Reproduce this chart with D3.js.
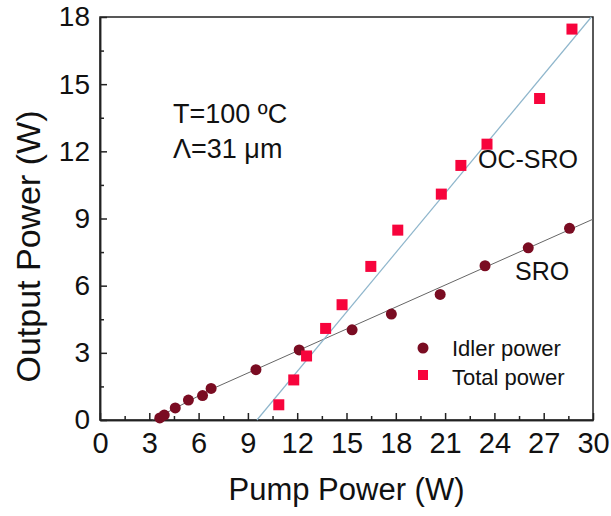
<html>
<head>
  <meta charset="utf8">
  <title>Output power vs pump power</title>
  <style>
  * { margin: 0; padding: 0; }
  body { background: #fff; }
  svg text { font-family: "Liberation Sans", Arial, sans-serif; fill: #111; }
  </style>
</head>
<body>
  <script src="https://cdn.jsdelivr.net/npm/d3@7"></script>
  <script>
  //Size of page and plot box
  var w = 611;
  var h = 516;
  var margin = { top: 17, right: 18, bottom: 96, left: 100 };

  //Data (pump power W, output power W)
  var idlerPump  = [3.64, 3.91, 4.58, 5.38, 6.24, 6.76, 9.49, 12.12, 15.34, 17.73, 20.7, 23.43, 26.06, 28.57];
  var idlerPower = [0.09, 0.22, 0.54, 0.89, 1.09, 1.41, 2.25, 3.13, 4.03, 4.73, 5.61, 6.89, 7.69, 8.56];
  var totalPump  = [10.88, 11.79, 12.57, 13.73, 14.73, 16.48, 18.12, 20.77, 21.96, 23.55, 26.75, 28.72];
  var totalPower = [0.68, 1.79, 2.86, 4.09, 5.15, 6.86, 8.48, 10.09, 11.37, 12.32, 14.36, 17.46];
  //Fit lines
  var sroFit   = [[3.2, 0], [6.8, 1.38], [30, 8.97]];
  var ocSroFit = [[9.55, 0], [29.9, 18]];
  //Axis ticks
  var xTicks = [0, 3, 6, 9, 12, 15, 18, 21, 24, 27, 30];
  var yTicks = [0, 3, 6, 9, 12, 15, 18];
  var xMinor = d3.range(1.5, 30, 3);
  var yMinor = d3.range(1.5, 18, 3);

  var pw = w - margin.left - margin.right;
  var ph = h - margin.top - margin.bottom;

  var xScale = d3.scaleLinear().domain([0, 30]).range([0, pw]);
  var yScale = d3.scaleLinear().domain([0, 18]).range([ph, 0]);

  var svg = d3.select("body")
    .append("svg")
    .attr("width", w)
    .attr("height", h);

  var g = svg.append("g")
    .attr("transform", "translate(" + margin.left + "," + margin.top + ")");

  //Frame
  g.append("rect")
    .attr("width", pw)
    .attr("height", ph)
    .attr("fill", "none")
    .attr("stroke", "#222")
    .attr("stroke-width", 1.5);

  //X axis, ticks pointing inside
  var xAxis = d3.axisBottom(xScale)
    .tickValues(xTicks)
    .tickSize(-7)
    .tickSizeOuter(0)
    .tickPadding(12)
    .tickFormat(d3.format("d"));
  var gx = g.append("g")
    .attr("transform", "translate(0," + ph + ")")
    .call(xAxis);
  gx.selectAll("text").attr("font-size", 29).attr("fill", "#111");
  g.append("g")
    .attr("transform", "translate(0," + ph + ")")
    .call(d3.axisBottom(xScale).tickValues(xMinor).tickSize(-4).tickSizeOuter(0).tickFormat(""));

  //Y axis
  var yAxis = d3.axisLeft(yScale)
    .tickValues(yTicks)
    .tickSize(-7)
    .tickSizeOuter(0)
    .tickPadding(10)
    .tickFormat(d3.format("d"));
  var gy = g.append("g").call(yAxis);
  gy.selectAll("text").attr("font-size", 28).attr("fill", "#111");
  g.append("g")
    .call(d3.axisLeft(yScale).tickValues(yMinor).tickSize(-4).tickSizeOuter(0).tickFormat(""));

  g.selectAll(".domain, .tick line").attr("stroke", "#222").attr("stroke-width", 1.5);
  g.selectAll("text").attr("font-family", "Liberation Sans, Arial, sans-serif");

  //Fit lines
  var line = d3.line()
    .x(function(d) { return xScale(d[0]); })
    .y(function(d) { return yScale(d[1]); });
  g.append("path")
    .datum(sroFit)
    .attr("d", line)
    .attr("fill", "none")
    .attr("stroke", "#666")
    .attr("stroke-width", 1);
  g.append("path")
    .datum(ocSroFit)
    .attr("d", line)
    .attr("fill", "none")
    .attr("stroke", "#8fb6cc")
    .attr("stroke-width", 1.2);

  //Idler points
  g.selectAll("circle.idler")
    .data(d3.zip(idlerPump, idlerPower))
    .enter()
    .append("circle")
    .attr("class", "idler")
    .attr("cx", function(d) { return xScale(d[0]); })
    .attr("cy", function(d) { return yScale(d[1]); })
    .attr("r", 5.5)
    .attr("fill", "#7a0c22");

  //Total points
  var sq = 11;
  g.selectAll("rect.total")
    .data(d3.zip(totalPump, totalPower))
    .enter()
    .append("rect")
    .attr("class", "total")
    .attr("x", function(d) { return xScale(d[0]) - sq / 2; })
    .attr("y", function(d) { return yScale(d[1]) - sq / 2; })
    .attr("width", sq)
    .attr("height", sq)
    .attr("fill", "#f7043c");

  //Legend
  var leg = g.append("g").attr("transform", "translate(323,331)");
  leg.append("circle").attr("cx", 0).attr("cy", 0).attr("r", 5.5).attr("fill", "#7a0c22");
  leg.append("rect").attr("x", -5).attr("y", 22).attr("width", 10).attr("height", 10).attr("fill", "#f7043c");
  leg.append("text").attr("x", 29).attr("y", 8).attr("font-size", 22).text("Idler power");
  leg.append("text").attr("x", 29).attr("y", 37).attr("font-size", 22).text("Total power");

  //Annotations
  svg.append("text").attr("x", 173).attr("y", 123).attr("font-size", 27).text("T=100 ºC");
  svg.append("text").attr("x", 173).attr("y", 158).attr("font-size", 27).text("Λ=31 μm");
  svg.append("text").attr("x", 478).attr("y", 168).attr("font-size", 25).text("OC-SRO");
  svg.append("text").attr("x", 515).attr("y", 280).attr("font-size", 25).text("SRO");

  //Axis titles
  svg.append("text")
    .attr("x", margin.left + pw / 2)
    .attr("y", 500)
    .attr("text-anchor", "middle")
    .attr("font-size", 31)
    .text("Pump Power (W)");
  svg.append("text")
    .attr("transform", "translate(40," + (margin.top + ph / 2 + 28) + ") rotate(-90)")
    .attr("text-anchor", "middle")
    .attr("font-size", 34)
    .text("Output Power (W)");
  </script>
</body>
</html>
